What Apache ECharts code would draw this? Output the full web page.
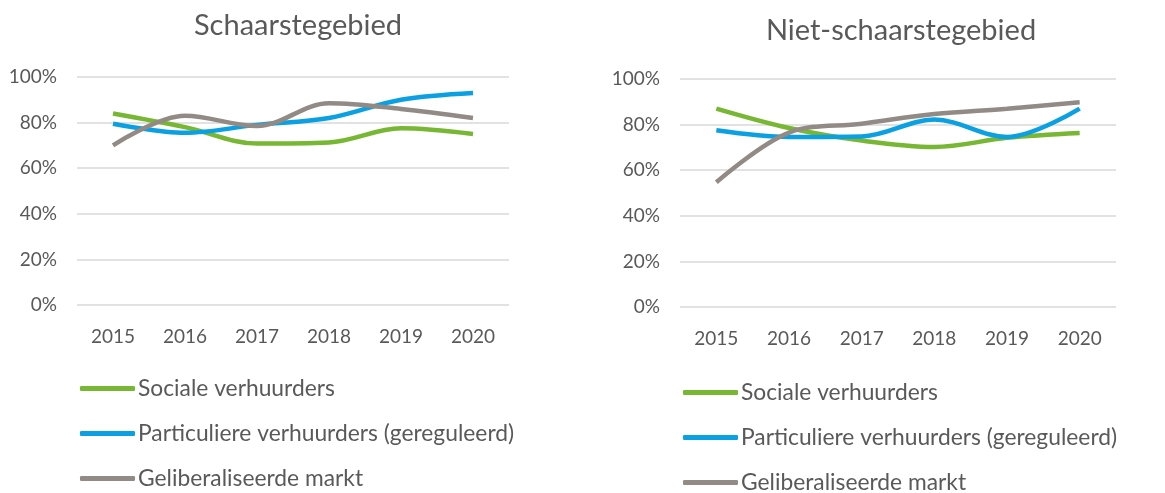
<!DOCTYPE html>
<html><head><meta charset="utf-8">
<script src="https://cdn.jsdelivr.net/npm/echarts@6/dist/echarts.min.js"></script>
<style>html,body{margin:0;padding:0;background:#fff}#c{width:1165px;height:493px}</style>
</head><body><div id="c"></div>
<script>
const years = ['2015','2016','2017','2018','2019','2020'];
const seriesNames = ['Sociale verhuurders','Particuliere verhuurders (gereguleerd)','Geliberaliseerde markt'];
const titles = ['Schaarstegebied','Niet-schaarstegebied'];
// Schaarstegebied
const leftSociale = [84, 78, 70.8, 71.3, 77.5, 75];
const leftParticulier = [79.5, 75.5, 79, 82, 90, 93];
const leftGeliberaliseerd = [70, 83, 78.5, 88.5, 86, 82];
// Niet-schaarstegebied
const rightSociale = [87, 78.5, 73, 70.2, 74.2, 76.3];
const rightParticulier = [77.5, 74.6, 74.8, 82.2, 74.6, 87];
const rightGeliberaliseerd = [54.7, 76.5, 80.4, 84.6, 87, 89.8];

const colors = ['#77B734', '#0AA0E2', '#928A85'];
const font = 'Lato, "Open Sans", sans-serif';
const txt = '#595959';

const chart = echarts.init(document.getElementById('c'));
const grids = [
  {left: 77, right: 656, top: 77, bottom: 188},
  {left: 680, right: 49, top: 79, bottom: 186}
];
function xAx(i){return {type:'category', gridIndex:i, data:years, boundaryGap:true,
  axisLine:{show:false}, axisTick:{show:false},
  axisLabel:{color:txt, fontSize:19, fontFamily:font, margin:22}};}
function yAx(i){return {type:'value', gridIndex:i, min:0, max:100, interval:20,
  axisLine:{show:false}, axisTick:{show:false},
  axisLabel:{color:txt, fontSize:19, fontFamily:font, margin:20, formatter:'{value}%'},
  splitLine:{lineStyle:{color:'#D9D9D9', width:1.5}}};}
function mk(name, data, i, c){return {name, type:'line', xAxisIndex:i, yAxisIndex:i, data,
  smooth:0.35, symbol:'none', lineStyle:{color:colors[c], width:4.5}, itemStyle:{color:colors[c]}};}
const leftData = [leftSociale, leftParticulier, leftGeliberaliseerd];
const rightData = [rightSociale, rightParticulier, rightGeliberaliseerd];
const series = [];
leftData.forEach((d,k)=>series.push(mk(seriesNames[k], d, 0, k)));
rightData.forEach((d,k)=>series.push(mk(seriesNames[k], d, 1, k)));

function leg(left, top){return {orient:'vertical', left, top, height:130, padding:0,
  itemWidth:55, itemHeight:5, itemGap:22,
  icon:'roundRect', data:seriesNames, selectedMode:false,
  textStyle:{color:txt, fontSize:22.8, fontFamily:font, padding:[0,0,0,-2]}};}

chart.setOption({
  animation:false,
  title:[
    {text:titles[0], left:293, top:6, textAlign:'center', textStyle:{color:txt, fontSize:29, fontWeight:'normal', fontFamily:font}},
    {text:titles[1], left:896, top:11, textAlign:'center', textStyle:{color:txt, fontSize:29, fontWeight:'normal', fontFamily:font}}
  ],
  grid:grids,
  xAxis:[xAx(0), xAx(1)],
  yAxis:[yAx(0), yAx(1)],
  legend:[leg(80, 377), leg(683, 381)],
  series
});
</script></body></html>
